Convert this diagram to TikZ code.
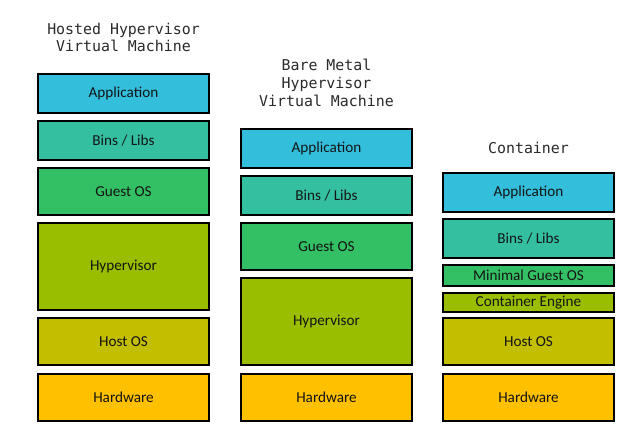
\documentclass[tikz,border=0pt]{standalone}
\usepackage{fontspec}
\setmainfont{Carlito}
\newfontfamily\titlefont{DejaVu Sans Mono}
\definecolor{cApp}{HTML}{33BEDC}
\definecolor{cBins}{HTML}{34C0A0}
\definecolor{cGuest}{HTML}{33BF63}
\definecolor{cHyp}{HTML}{99BE00}
\definecolor{cHost}{HTML}{C4BE00}
\definecolor{cHw}{HTML}{FFC000}
\definecolor{cTitle}{HTML}{2A2A2A}
\tikzset{
  layer/.style={draw=black, line width=2pt, inner sep=0pt, minimum width=171pt,
    font=\fontsize{15.2}{17}\selectfont, text=black!92},
  coltitle/.style={align=center, text=cTitle, inner sep=0pt,
    font=\titlefont\fontsize{14.9}{17.8}\selectfont}
}
\begin{document}
\begin{tikzpicture}[x=1pt,y=-1pt]
\useasboundingbox (0,0) rectangle (633,437);
% titles
\node[coltitle] (t1) at (123.5,37.5) {Hosted Hypervisor\\Virtual Machine};
\node[coltitle] (t2) at (326.5,83) {Bare Metal\\Hypervisor\\Virtual Machine};
\node[coltitle] (t3) at (528.5,148) {Container};
% column 1
\node[layer, fill=cApp,   minimum height=39pt] (a1) at (123.5,93.5)  {Application};
\node[layer, fill=cBins,  minimum height=39pt] (b1) at (123.5,140.5) {Bins / Libs};
\node[layer, fill=cGuest, minimum height=47pt] (g1) at (123.5,191.5) {Guest OS};
\node[layer, fill=cHyp,   minimum height=87pt] (h1) at (123.5,266.5) {Hypervisor};
\node[layer, fill=cHost,  minimum height=47pt] (o1) at (123.5,341.5) {Host OS};
\node[layer, fill=cHw,    minimum height=47pt] (w1) at (123.5,397.5) {Hardware};
% column 2
\node[layer, fill=cApp,   minimum height=39pt] (a2) at (326.5,148.5) {Application};
\node[layer, fill=cBins,  minimum height=39pt] (b2) at (326.5,195.5) {Bins / Libs};
\node[layer, fill=cGuest, minimum height=47pt] (g2) at (326.5,246.5) {Guest OS};
\node[layer, fill=cHyp,   minimum height=87pt] (h2) at (326.5,321.5) {Hypervisor};
\node[layer, fill=cHw,    minimum height=47pt] (w2) at (326.5,397.5) {Hardware};
% column 3
\node[layer, fill=cApp,   minimum height=39pt] (a3) at (528.5,192.5) {Application};
\node[layer, fill=cBins,  minimum height=39pt] (b3) at (528.5,238.5) {Bins / Libs};
\node[layer, fill=cGuest, minimum height=21pt] (m3) at (528.5,275.5) {Minimal Guest OS};
\node[layer, fill=cHyp,   minimum height=19pt] (e3) at (528.5,302.5) {Container Engine};
\node[layer, fill=cHost,  minimum height=47pt] (o3) at (528.5,341.5) {Host OS};
\node[layer, fill=cHw,    minimum height=47pt] (w3) at (528.5,397.5) {Hardware};
\end{tikzpicture}
\end{document}
